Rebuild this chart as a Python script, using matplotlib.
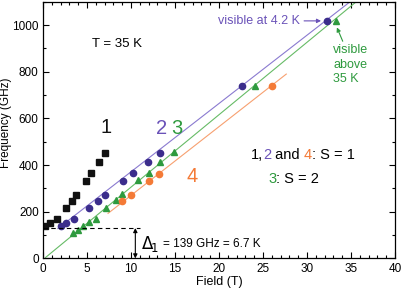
import numpy as np
import matplotlib
matplotlib.use("Agg")
import matplotlib.pyplot as plt
from matplotlib.ticker import MultipleLocator

plt.rcParams['font.family'] = ['Liberation Sans', 'DejaVu Sans']

# branch 1 (black squares)
field_1 = [0.27, 0.84, 1.6, 2.6, 3.3, 3.8, 4.9, 5.5, 6.4, 7.1]
freq_1 = [138, 153, 168, 216, 248, 273, 331, 364, 414, 453]

# branch 2 (purple circles)
field_2 = [2.0, 2.66, 3.55, 5.2, 6.3, 7.1, 9.1, 10.2, 11.9, 13.3, 22.6, 32.3]
freq_2 = [138, 153, 170, 217, 248, 273, 331, 364, 414, 453, 741, 1018]

# branch 3 (green triangles)
field_3 = [3.4, 4.0, 4.5, 5.2, 6.0, 7.2, 8.3, 9.0, 10.8, 12.0, 13.3, 14.85, 24.1, 33.3]
freq_3 = [107, 121, 140, 157, 171, 218, 250, 276, 334, 367, 414, 454, 741, 1018]

# branch 4 (orange circles)
field_4 = [9.0, 10.0, 12.1, 13.2, 26.0]
freq_4 = [247, 273, 330, 363, 741]

# fitted lines (end points)
fit_2_x = [1.7, 34.9]
fit_2_y = [128, 1100]
fit_3_x = [0.3, 35.6]
fit_3_y = [4, 1100]
fit_4_x = [7.4, 27.65]
fit_4_y = [193, 790]

gap = 130

purple = '#3b2d8c'
purple_t = '#6a52b8'
purple_l = '#8a7ad0'
green = '#2e9a3e'
green_l = '#66bb66'
orange = '#f47a36'
orange_l = '#f7a070'

fig = plt.figure(figsize=(4.01, 2.91), dpi=100)
ax = fig.add_axes([0.107, 0.112, 0.878, 0.882])

ax.plot(fit_2_x, fit_2_y, color=purple_l, lw=0.8)
ax.plot(fit_3_x, fit_3_y, color=green_l, lw=0.8)
ax.plot(fit_4_x, fit_4_y, color=orange_l, lw=0.8)

ax.plot(field_1, freq_1, 's', color='#111111', ms=4, ls='none')
ax.plot(field_2, freq_2, 'o', color=purple, ms=4.5, ls='none')
ax.plot(field_3, freq_3, '^', color=green, ms=5, ls='none')
ax.plot(field_4, freq_4, 'o', color=orange, ms=4.5, ls='none')

ax.plot([0, 11], [gap, gap], color='black', ls=(0, (4, 3)), lw=0.8)
ax.annotate('', xy=(10.5, gap), xytext=(10.5, 0),
            arrowprops=dict(arrowstyle='<|-|>', color='black', lw=0.8,
                            mutation_scale=6, shrinkA=0, shrinkB=0))
ax.text(11.2, 62, r'$\Delta_{\!1}$', fontsize=12, va='center', ha='left')
ax.text(13.6, 60, '= 139 GHz = 6.7 K', fontsize=8.5, va='center', ha='left')

ax.text(5.6, 918, 'T = 35 K', fontsize=9.5, va='center', ha='left')
ax.text(7.2, 560, '1', fontsize=14.5, color='#111111', ha='center', va='center')
ax.text(13.5, 555, '2', fontsize=14.5, color=purple_t, ha='center', va='center')
ax.text(15.2, 555, '3', fontsize=14.5, color=green, ha='center', va='center')
ax.text(16.9, 352, '4', fontsize=14.5, color=orange, ha='center', va='center')

# spin labels with coloured numbers, chained piece by piece
pieces = [('1,', 'black'), ('2', purple_t), (' and ', 'black'),
          ('4', orange), (': S = 1', 'black')]
prev = ax.text(23.6, 442, pieces[0][0], fontsize=10.5, va='center',
               ha='left', color=pieces[0][1])
for txt, col in pieces[1:]:
    prev = ax.annotate(txt, xy=(1, 0.5), xycoords=prev, fontsize=10.5,
                       va='center', ha='left', color=col)
prev = ax.text(25.6, 340, '3', fontsize=10.5, va='center', ha='left',
               color=green)
ax.annotate(': S = 2', xy=(1, 0.5), xycoords=prev, fontsize=10.5,
            va='center', ha='left', color='black')

ax.annotate('visible at 4.2 K', xy=(31.6, 1018), xytext=(29.2, 1018),
            fontsize=9, color=purple_t, ha='right', va='center',
            arrowprops=dict(arrowstyle='-|>', color=purple_t, lw=0.8,
                            mutation_scale=6, shrinkA=1, shrinkB=0))
ax.annotate('visible\nabove\n35 K', xy=(33.4, 990), xytext=(33.0, 830),
            fontsize=9, color=green, ha='left', va='center', linespacing=1.3,
            arrowprops=dict(arrowstyle='-|>', color=green, lw=0.8,
                            mutation_scale=6, shrinkA=0, shrinkB=0,
                            relpos=(0.3, 1.0)))

ax.set_xlim(0, 40)
ax.set_ylim(0, 1100)
ax.xaxis.set_major_locator(MultipleLocator(5))
ax.xaxis.set_minor_locator(MultipleLocator(1))
ax.yaxis.set_major_locator(MultipleLocator(200))
ax.yaxis.set_minor_locator(MultipleLocator(100))
ax.tick_params(which='both', direction='in', top=True, right=True,
               labelsize=8.5, width=0.8, pad=3)
ax.tick_params(which='major', length=4)
ax.tick_params(which='minor', length=2)
for s in ax.spines.values():
    s.set_linewidth(0.9)

ax.set_xlabel('Field (T)', fontsize=9, labelpad=1)
ax.set_ylabel('Frequency (GHz)', fontsize=8.5)
ax.yaxis.set_label_coords(-0.088, 0.53)

fig.savefig('out.png', dpi=100)
